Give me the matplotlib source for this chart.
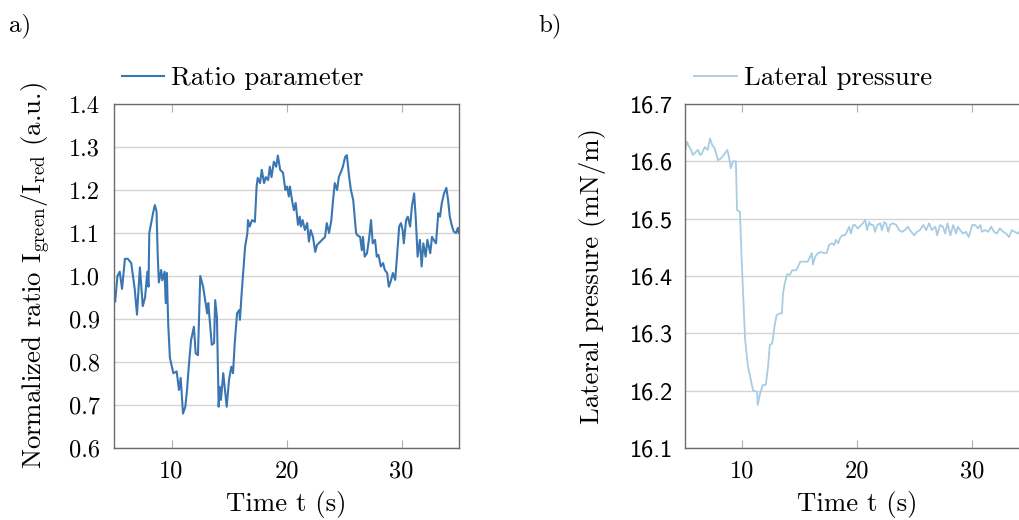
import matplotlib
matplotlib.use('Agg')
import matplotlib.pyplot as plt

plt.rcParams['font.family'] = 'cmr10'
plt.rcParams['mathtext.fontset'] = 'cm'
plt.rcParams['axes.unicode_minus'] = False
plt.rcParams['axes.formatter.use_mathtext'] = True

# ratio I_green / I_red over time
t_ratio = [5.0, 5.1, 5.3, 5.5, 5.7, 5.95, 6.2, 6.5, 6.8, 7.0, 7.25, 7.5, 7.7, 7.9, 8.0,
           8.07, 8.4, 8.55, 8.7, 8.8, 8.9, 9.1, 9.2, 9.4, 9.5, 9.6, 9.65, 9.72, 9.86, 10.04,
           10.16, 10.45, 10.65, 10.8, 11.0, 11.2, 11.35, 11.5, 11.7, 11.95, 12.1, 12.3, 12.5,
           12.75, 13.1, 13.2, 13.35, 13.5, 13.7, 13.8, 13.95, 14.1, 14.2, 14.3, 14.5, 14.8,
           15.0, 15.2, 15.35, 15.5, 15.7, 15.9, 15.95, 16.1, 16.3, 16.4, 16.6, 16.65, 16.8,
           17.0, 17.25, 17.4, 17.5, 17.7, 17.85, 18.05, 18.2, 18.4, 18.55, 18.7, 18.9, 19.1,
           19.25, 19.45, 19.7, 19.9, 20.05, 20.2, 20.3, 20.5, 20.65, 20.8, 21.0, 21.15, 21.25,
           21.4, 21.6, 21.8, 21.95, 22.1, 22.3, 22.5, 22.65, 22.8, 23.1, 23.35, 23.5, 23.7,
           23.9, 24.05, 24.2, 24.4, 24.55, 24.75, 24.9, 25.1, 25.25, 25.45, 25.6, 25.8, 25.95,
           26.05, 26.15, 26.4, 26.55, 26.65, 26.8, 27.0, 27.2, 27.35, 27.5, 27.7, 27.85, 28.0,
           28.2, 28.4, 28.55, 28.75, 28.9, 29.1, 29.25, 29.45, 29.6, 29.8, 29.95, 30.1, 30.2,
           30.4, 30.55, 30.75, 30.9, 31.1, 31.25, 31.4, 31.6, 31.75, 31.9, 32.1, 32.25, 32.5,
           32.65, 32.8, 33.0, 33.2, 33.35, 33.5, 33.7, 33.9, 34.05, 34.2, 34.4, 34.55, 34.75,
           34.9, 35.0]
ratio = [0.96, 0.94, 1.00, 1.01, 0.97, 1.04, 1.04, 1.03, 0.97, 0.91, 1.02, 0.93, 0.95, 1.01, 0.975,
         1.10, 1.147, 1.165, 1.15, 1.05, 0.985, 1.014, 0.99, 1.01, 0.937, 1.007, 0.95, 0.885, 0.81, 0.789,
         0.774, 0.778, 0.735, 0.763, 0.68, 0.696, 0.735, 0.789, 0.851, 0.882, 0.82, 0.816, 1.0,
         0.975, 0.913, 0.937, 0.89, 0.84, 0.844, 0.944, 0.905, 0.696, 0.742, 0.712, 0.774, 0.696,
         0.758, 0.789, 0.774, 0.844, 0.913, 0.921, 0.898, 0.96, 1.03, 1.068, 1.10, 1.13, 1.115,
         1.13, 1.126, 1.208, 1.228, 1.216, 1.247, 1.216, 1.23, 1.223, 1.254, 1.23, 1.266, 1.254,
         1.28, 1.247, 1.24, 1.20, 1.208, 1.185, 1.208, 1.173, 1.153, 1.17, 1.119, 1.138, 1.115,
         1.13, 1.107, 1.123, 1.08, 1.107, 1.091, 1.056, 1.072, 1.076, 1.084, 1.091, 1.123, 1.10,
         1.13, 1.177, 1.216, 1.20, 1.23, 1.243, 1.254, 1.277, 1.281, 1.23, 1.20, 1.177, 1.13,
         1.10, 1.095, 1.091, 1.06, 1.091, 1.045, 1.053, 1.091, 1.13, 1.076, 1.084, 1.045, 1.049,
         1.022, 1.03, 1.014, 1.007, 0.975, 0.991, 1.007, 0.991, 1.042, 1.115, 1.123, 1.107, 1.076,
         1.13, 1.138, 1.115, 1.161, 1.192, 1.13, 1.045, 1.084, 1.022, 1.076, 1.045, 1.084, 1.053,
         1.091, 1.084, 1.076, 1.146, 1.138, 1.169, 1.192, 1.205, 1.177, 1.138, 1.115, 1.103, 1.10,
         1.112, 1.10]

# lateral pressure over time
t_press = [5.0, 5.2, 5.4, 5.55, 5.7, 6.0, 6.15, 6.35, 6.5, 6.75, 7.0, 7.2, 7.4, 7.6, 7.9, 8.15,
           8.4, 8.7, 8.85, 9.0, 9.2, 9.45, 9.55, 9.8, 9.95, 10.25, 10.5, 10.95, 11.3, 11.35, 11.55,
           11.8, 12.05, 12.25, 12.4, 12.6, 12.85, 13.0, 13.3, 13.45, 13.55, 13.7, 13.9, 14.15,
           14.35, 14.7, 14.85, 15.05, 15.45, 15.7, 16.05, 16.15, 16.35, 16.6, 16.85, 17.1, 17.35,
           17.55, 17.8, 18.0, 18.15, 18.35, 18.5, 18.7, 18.95, 19.1, 19.3, 19.45, 19.65, 19.8,
           20.05, 20.35, 20.5, 20.7, 20.85, 21.05, 21.2, 21.4, 21.55, 21.75, 22.0, 22.15, 22.35,
           22.5, 22.7, 22.85, 23.1, 23.4, 23.65, 23.9, 24.15, 24.4, 24.7, 24.95, 25.2, 25.45,
           25.75, 26.0, 26.25, 26.5, 26.8, 26.95, 27.2, 27.45, 27.65, 27.85, 28.1, 28.35, 28.6,
           28.75, 28.95, 29.2, 29.45, 29.7, 30.0, 30.25, 30.5, 30.7, 30.85, 31.1, 31.4, 31.65,
           31.9, 32.15, 32.4, 32.7, 32.95, 33.2, 33.45, 33.7, 34.0, 34.3, 34.6, 35.0]
press = [16.614, 16.634, 16.625, 16.620, 16.611, 16.617, 16.620, 16.611, 16.614, 16.625, 16.620,
         16.640, 16.628, 16.623, 16.602, 16.605, 16.611, 16.620, 16.608, 16.588, 16.600, 16.600,
         16.515, 16.512, 16.430, 16.290, 16.242, 16.200, 16.198, 16.175, 16.195, 16.210, 16.210,
         16.242, 16.280, 16.282, 16.317, 16.332, 16.335, 16.335, 16.370, 16.387, 16.403, 16.402,
         16.410, 16.410, 16.416, 16.425, 16.425, 16.425, 16.440, 16.420, 16.434, 16.440, 16.442,
         16.440, 16.440, 16.454, 16.457, 16.454, 16.463, 16.457, 16.466, 16.471, 16.471, 16.477,
         16.486, 16.474, 16.489, 16.489, 16.483, 16.489, 16.492, 16.498, 16.480, 16.494, 16.489,
         16.489, 16.477, 16.489, 16.492, 16.480, 16.494, 16.492, 16.477, 16.489, 16.492, 16.489,
         16.480, 16.477, 16.480, 16.486, 16.477, 16.471, 16.477, 16.480, 16.489, 16.480, 16.492,
         16.480, 16.486, 16.471, 16.489, 16.486, 16.474, 16.492, 16.471, 16.489, 16.474, 16.486,
         16.480, 16.474, 16.477, 16.468, 16.489, 16.489, 16.483, 16.489, 16.477, 16.480, 16.477,
         16.486, 16.477, 16.474, 16.483, 16.477, 16.474, 16.468, 16.480, 16.477, 16.474, 16.483,
         16.478, 16.480]

x_ticks = [10, 20, 30]
ratio_ticks = [0.6, 0.7, 0.8, 0.9, 1.0, 1.1, 1.2, 1.3, 1.4]
press_ticks = [16.1, 16.2, 16.3, 16.4, 16.5, 16.6, 16.7]

fs_tick = 17.5
fs_lab = 19.3
fig = plt.figure(figsize=(10.19, 5.2), dpi=100)
ax1 = fig.add_axes([114 / 1019, 72 / 520, 345 / 1019, 344 / 520])
ax2 = fig.add_axes([684.7 / 1019, 72 / 520, 345 / 1019, 344 / 520])


def style(ax):
    ax.set_xlim(5, 35)
    ax.grid(axis='y', color='#d4d4d4', lw=1.0)
    ax.set_axisbelow(True)
    for s in ax.spines.values():
        s.set_color('#6b6b6b')
        s.set_linewidth(1.0)
    ax.set_xticks(x_ticks, labels=[str(v) for v in x_ticks])
    ax.tick_params(axis='x', direction='in', top=True, length=6, width=0.8,
                   color='#b0b0b0', labelsize=fs_tick, pad=9)
    ax.tick_params(axis='y', length=0)
    ax.set_xlabel('Time t (s)', fontsize=fs_lab, labelpad=6)


ax1.plot(t_ratio, ratio, color='#3a76b2', lw=1.5, label='Ratio parameter')
style(ax1)
ax1.set_ylim(0.6, 1.4)
ax1.set_yticks(ratio_ticks, labels=[f'{v:.1f}' for v in ratio_ticks])
ax1.tick_params(axis='y', labelsize=fs_tick, pad=10)
ax1.set_ylabel(r'Normalized ratio $\mathrm{I}_{\mathrm{green}}/\mathrm{I}_{\mathrm{red}}$ (a.u.)',
               fontsize=fs_lab)
ax1.yaxis.set_label_coords(-0.178, 0.5)
ax1.legend(loc='center', bbox_to_anchor=(0.374, 1.075), frameon=False, fontsize=fs_lab,
           handlelength=1.55, handletextpad=0.27, borderpad=0)

ax2.plot(t_press, press, color='#a8cce4', lw=1.3, label='Lateral pressure')
style(ax2)
ax2.set_ylim(16.1, 16.7)
ax2.set_yticks(press_ticks, labels=[f'{v:.1f}' for v in press_ticks])
ax2.tick_params(axis='y', labelsize=fs_tick, pad=8.5)
for lab in ax2.get_yticklabels():
    lab.set_fontfamily('cmss10')
ax2.set_ylabel('Lateral pressure (mN/m)', fontsize=fs_lab)
ax2.yaxis.set_label_coords(-0.228, 0.5)
ax2.legend(loc='center', bbox_to_anchor=(0.372, 1.075), frameon=False, fontsize=fs_lab,
           handlelength=1.6, handletextpad=0.25, borderpad=0)

fig.text(9 / 1019, 1 - 26 / 520, 'a)', fontsize=18, va='center', ha='left')
fig.text(538 / 1019, 1 - 26 / 520, 'b)', fontsize=18, va='center', ha='left')

fig.savefig('out.png', dpi=100)
